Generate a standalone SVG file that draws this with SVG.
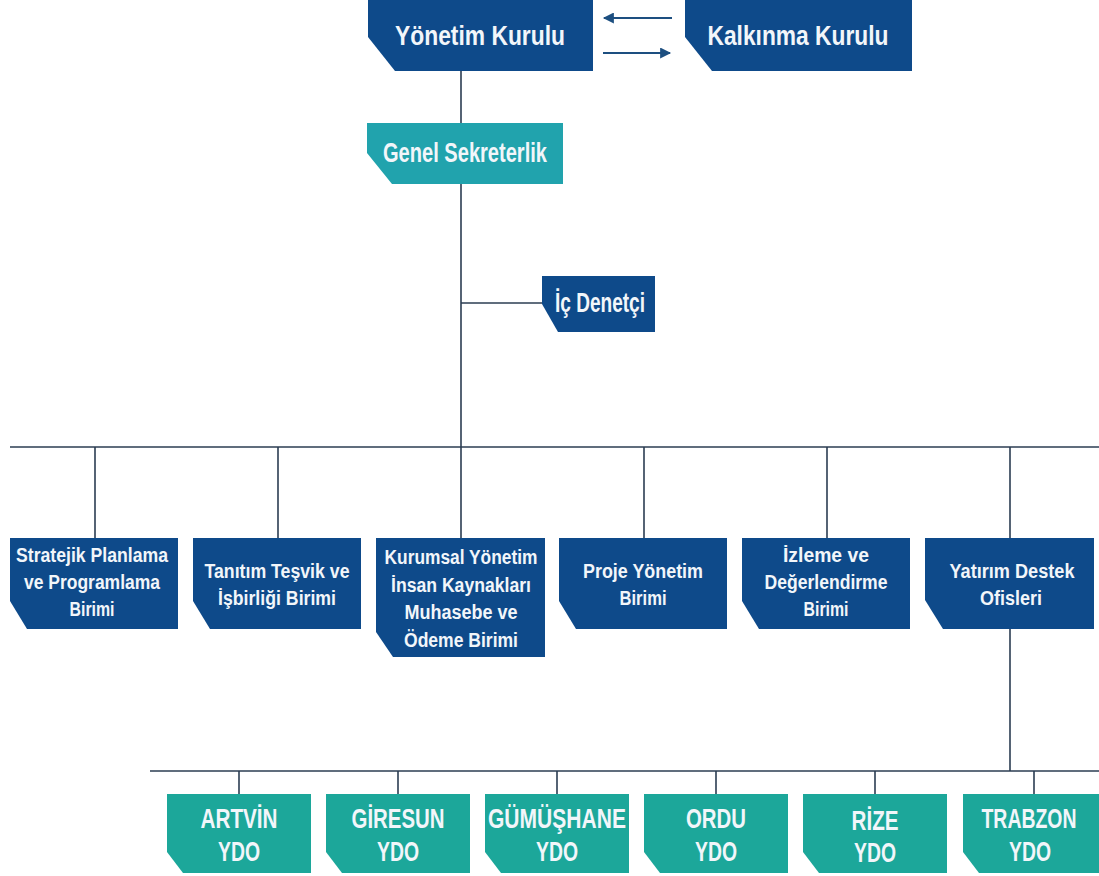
<svg xmlns="http://www.w3.org/2000/svg" width="1099" height="876" viewBox="0 0 1099 876">
<defs>
<style>
.blue{fill:#0e4a8a}
.teal{fill:#21a3ad}
.ydo{fill:#1ca79a}
.ln{stroke:#2b3d52;stroke-width:1.6;fill:none}
.arr{stroke:#1d4f80;stroke-width:2.2;fill:none}
text{font-family:"Liberation Sans",Arial,sans-serif;font-weight:bold;fill:#f2f6fa;text-anchor:middle}
.t1{font-size:28px}
.t2{font-size:20px}
.t3{font-size:27px}
</style>
<marker id="ah" viewBox="0 0 10 10" refX="9" refY="5" markerWidth="5.5" markerHeight="5" orient="auto-start-reverse" markerUnits="strokeWidth">
<path d="M0,0 L10,5 L0,10 Z" fill="#1d4f80"/>
</marker>
</defs>
<rect width="1099" height="876" fill="#ffffff"/>
<g id="connectors">
<line class="arr" x1="672" y1="18" x2="604" y2="18" marker-end="url(#ah)"/>
<line class="arr" x1="603" y1="53" x2="670" y2="53" marker-end="url(#ah)"/>
<line class="ln" x1="461" y1="71" x2="461" y2="123"/>
<line class="ln" x1="461" y1="184" x2="461" y2="538"/>
<line class="ln" x1="461" y1="303" x2="542" y2="303"/>
<line class="ln" x1="10" y1="447" x2="1099" y2="447"/>
<line class="ln" x1="95" y1="447" x2="95" y2="538"/>
<line class="ln" x1="278" y1="447" x2="278" y2="538"/>
<line class="ln" x1="644" y1="447" x2="644" y2="538"/>
<line class="ln" x1="827" y1="447" x2="827" y2="538"/>
<line class="ln" x1="1010" y1="447" x2="1010" y2="538"/>
<line class="ln" x1="1010" y1="629" x2="1010" y2="771"/>
<line class="ln" x1="150" y1="771" x2="1099" y2="771"/>
<line class="ln" x1="239" y1="771" x2="239" y2="794"/>
<line class="ln" x1="398" y1="771" x2="398" y2="794"/>
<line class="ln" x1="557" y1="771" x2="557" y2="794"/>
<line class="ln" x1="716" y1="771" x2="716" y2="794"/>
<line class="ln" x1="875" y1="771" x2="875" y2="794"/>
<line class="ln" x1="1034" y1="771" x2="1034" y2="794"/>
</g>
<g id="yonetim-kurulu">
<path class="blue" d="M368,0 H593 V71 H395 L368,37 Z"/>
<text class="t1" x="480" y="45" textLength="170" lengthAdjust="spacingAndGlyphs">Yönetim Kurulu</text>
</g>
<g id="kalkinma-kurulu">
<path class="blue" d="M685,0 H912 V71 H712 L685,37 Z"/>
<text class="t1" x="798" y="45" textLength="181" lengthAdjust="spacingAndGlyphs">Kalkınma Kurulu</text>
</g>
<g id="genel-sekreterlik">
<path class="teal" d="M367,123 H563 V184 H392 L367,153 Z"/>
<text class="t1" x="465" y="162" font-size="26" textLength="164" lengthAdjust="spacingAndGlyphs">Genel Sekreterlik</text>
</g>
<g id="ic-denetci">
<path class="blue" d="M542,276 H655 V332 H558 L542,304 Z"/>
<text class="t1" x="600" y="312" font-size="26" textLength="90" lengthAdjust="spacingAndGlyphs">İç Denetçi</text>
</g>
<g id="stratejik">
<path class="blue" d="M10,538 H178 V629 H27 L10,601 Z"/>
<text class="t2" x="92" y="562" textLength="152" lengthAdjust="spacingAndGlyphs">Stratejik Planlama</text>
<text class="t2" x="92" y="589" textLength="136" lengthAdjust="spacingAndGlyphs">ve Programlama</text>
<text class="t2" x="92" y="616" textLength="45" lengthAdjust="spacingAndGlyphs">Birimi</text>
</g>
<g id="tanitim">
<path class="blue" d="M193,538 H361 V629 H210 L193,601 Z"/>
<text class="t2" x="277" y="578" textLength="145" lengthAdjust="spacingAndGlyphs">Tanıtım Teşvik ve</text>
<text class="t2" x="277" y="605" textLength="118" lengthAdjust="spacingAndGlyphs">İşbirliği Birimi</text>
</g>
<g id="kurumsal">
<path class="blue" d="M376,538 H545 V657 H393 L376,632 Z"/>
<text class="t2" x="461" y="564" textLength="153" lengthAdjust="spacingAndGlyphs">Kurumsal Yönetim</text>
<text class="t2" x="461" y="592" textLength="140" lengthAdjust="spacingAndGlyphs">İnsan Kaynakları</text>
<text class="t2" x="461" y="619" textLength="113" lengthAdjust="spacingAndGlyphs">Muhasebe ve</text>
<text class="t2" x="461" y="647" textLength="114" lengthAdjust="spacingAndGlyphs">Ödeme Birimi</text>
</g>
<g id="proje">
<path class="blue" d="M559,538 H727 V629 H576 L559,601 Z"/>
<text class="t2" x="643" y="578" textLength="120" lengthAdjust="spacingAndGlyphs">Proje Yönetim</text>
<text class="t2" x="643" y="605" textLength="47" lengthAdjust="spacingAndGlyphs">Birimi</text>
</g>
<g id="izleme">
<path class="blue" d="M742,538 H910 V629 H759 L742,601 Z"/>
<text class="t2" x="826" y="562" textLength="86" lengthAdjust="spacingAndGlyphs">İzleme ve</text>
<text class="t2" x="826" y="589" textLength="123" lengthAdjust="spacingAndGlyphs">Değerlendirme</text>
<text class="t2" x="826" y="616" textLength="45" lengthAdjust="spacingAndGlyphs">Birimi</text>
</g>
<g id="yatirim">
<path class="blue" d="M925,538 H1094 V629 H943 L925,600 Z"/>
<text class="t2" x="1012" y="578" textLength="125" lengthAdjust="spacingAndGlyphs">Yatırım Destek</text>
<text class="t2" x="1011" y="605" textLength="62" lengthAdjust="spacingAndGlyphs">Ofisleri</text>
</g>
<g id="artvin">
<path class="ydo" d="M167,794 H311 V873 H183 L167,852 Z"/>
<text class="t3" x="239" y="828" textLength="77" lengthAdjust="spacingAndGlyphs">ARTVİN</text>
<text class="t3" x="239" y="861" textLength="42" lengthAdjust="spacingAndGlyphs">YDO</text>
</g>
<g id="giresun">
<path class="ydo" d="M326,794 H470 V873 H342 L326,852 Z"/>
<text class="t3" x="398" y="828" textLength="93" lengthAdjust="spacingAndGlyphs">GİRESUN</text>
<text class="t3" x="398" y="861" textLength="42" lengthAdjust="spacingAndGlyphs">YDO</text>
</g>
<g id="gumushane">
<path class="ydo" d="M485,794 H629 V873 H501 L485,852 Z"/>
<text class="t3" x="557" y="828" textLength="138" lengthAdjust="spacingAndGlyphs">GÜMÜŞHANE</text>
<text class="t3" x="557" y="861" textLength="42" lengthAdjust="spacingAndGlyphs">YDO</text>
</g>
<g id="ordu">
<path class="ydo" d="M644,794 H788 V873 H660 L644,852 Z"/>
<text class="t3" x="716" y="828" textLength="60" lengthAdjust="spacingAndGlyphs">ORDU</text>
<text class="t3" x="716" y="861" textLength="42" lengthAdjust="spacingAndGlyphs">YDO</text>
</g>
<g id="rize">
<path class="ydo" d="M803,794 H947 V873 H819 L803,852 Z"/>
<text class="t3" x="875" y="830" textLength="47" lengthAdjust="spacingAndGlyphs">RİZE</text>
<text class="t3" x="875" y="862" textLength="42" lengthAdjust="spacingAndGlyphs">YDO</text>
</g>
<g id="trabzon">
<path class="ydo" d="M963,794 H1099 V873 H979 L963,852 Z"/>
<text class="t3" x="1029" y="828" font-size="25" textLength="95" lengthAdjust="spacingAndGlyphs">TRABZON</text>
<text class="t3" x="1030" y="861" textLength="42" lengthAdjust="spacingAndGlyphs">YDO</text>
</g>
</svg>
